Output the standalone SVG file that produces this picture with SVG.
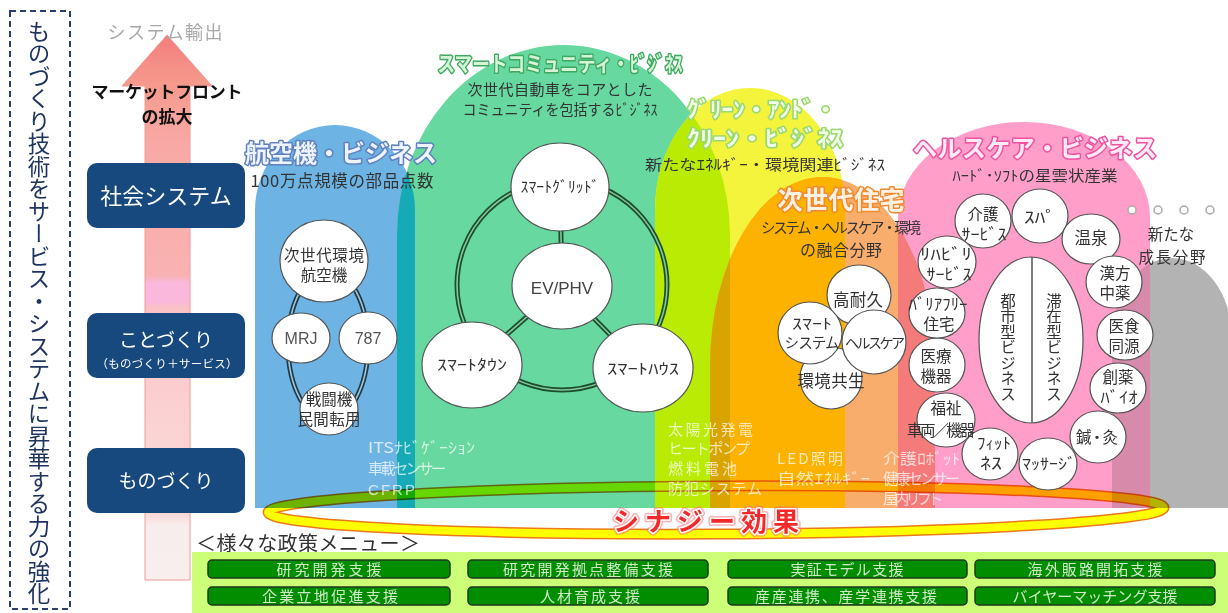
<svg xmlns="http://www.w3.org/2000/svg" width="1228" height="613" viewBox="0 0 1228 613">
<style>
text{font-family:'Noto Sans CJK JP','Noto Sans',sans-serif}
.lat{font-family:'Liberation Sans',Arial,sans-serif}
.d{fill:#333}
.c{fill:#fff;stroke:#555;stroke-width:1.2}
.w{fill:#fff;fill-opacity:0.72;font-size:15px}
.box{fill:#17497f}
.btn{fill:#008e00;stroke:#1d3b1d;stroke-width:1.5}
.bt{fill:#cfe8c6;font-size:15px}
.m{text-anchor:middle}
.ol{paint-order:stroke;stroke-linejoin:round;font-weight:700}
.r1{fill:none;stroke:#223a4a;stroke-width:5}
.r2{fill:none;stroke:#9fc6d6;stroke-width:1.6}
.g1{fill:none;stroke:#1d4d2d;stroke-width:5}
.g2{fill:none;stroke:#7fc89a;stroke-width:1.6}
.n{font-size:15.5px}
</style>
<defs>
<linearGradient id="ga" x1="0" y1="35" x2="0" y2="580" gradientUnits="userSpaceOnUse">
<stop offset="0" stop-color="#f37d7d"/>
<stop offset="0.09" stop-color="#f59a8c"/>
<stop offset="0.2" stop-color="#f8a9a6"/>
<stop offset="0.44" stop-color="#f9b2b2"/>
<stop offset="0.455" stop-color="#f9b8dc"/>
<stop offset="0.49" stop-color="#f9b8dc"/>
<stop offset="0.5" stop-color="#fac2c4"/>
<stop offset="0.72" stop-color="#fbd3d3"/>
<stop offset="0.88" stop-color="#fcd9d9"/>
<stop offset="0.9" stop-color="#f8eded"/>
<stop offset="1" stop-color="#f8eeee"/>
</linearGradient>
<path id="pBlue" d="M255,508 V210 A80,85 0 0 1 415,210 V508 Z"/>
<path id="pGreen" d="M397,508 V235 A166.5,190 0 0 1 730,235 V508 Z"/>
<path id="pYellow" d="M655,508 V210 A95,122 0 0 1 845,210 V508 Z"/>
<path id="pOrange" d="M710,508 V367 A112.5,190 0 0 1 935,367 V508 Z"/>
<path id="pPink" d="M898,508 V217 A126,95 0 0 1 1150,217 V508 Z"/>
<path id="pGray" d="M1112,508 V338 A60,80 0 0 1 1232,338 V508 Z"/>
<clipPath id="cBlue"><use href="#pBlue"/></clipPath>
<clipPath id="cGreen"><use href="#pGreen"/></clipPath>
<clipPath id="cYellow"><use href="#pYellow"/></clipPath>
<clipPath id="cOrange"><use href="#pOrange"/></clipPath>
<clipPath id="cGray"><use href="#pGray"/></clipPath>
</defs>
<rect width="1228" height="613" fill="#fff"/>

<g id="side-label">
<rect x="10" y="11" width="60" height="598" fill="none" stroke="#2b3f6e" stroke-width="2" stroke-dasharray="6 4"/>
<text x="39" y="20" font-size="22.5" fill="#1f3560" style="writing-mode:vertical-rl">ものづくり技術をサービス・システムに昇華する力の強化</text>
</g>

<g id="arrow">
<path d="M145,580 V86 H122 L167,35 L212,86 H190 V580 Z" fill="url(#ga)" stroke="#f09a9a" stroke-width="1"/>
<text x="165" y="39" font-size="18" fill="#a8a8a8" class="m" textLength="115">システム輸出</text>
<text x="167" y="98" font-size="17" font-weight="700" fill="#111" class="m" textLength="151">マーケットフロント</text>
<text x="167" y="123" font-size="17" font-weight="700" fill="#111" class="m">の拡大</text>
</g>

<g id="box-shakai">
<rect x="87" y="163" width="158" height="65" rx="10" class="box"/>
<text x="166" y="204" font-size="22" fill="#fff" class="m">社会システム</text>
</g>
<g id="box-kotozukuri">
<rect x="87" y="313" width="158" height="65" rx="10" class="box"/>
<text x="166" y="347" font-size="19" fill="#fff" class="m">ことづくり</text>
<text x="167" y="368" font-size="11.5" fill="#fff" class="m" textLength="141">（ものづくり＋サービス）</text>
</g>
<g id="box-monozukuri">
<rect x="87" y="448" width="158" height="65" rx="10" class="box"/>
<text x="166" y="488" font-size="19" fill="#fff" class="m">ものづくり</text>
</g>

<g id="domes">
<use href="#pBlue" fill="#6db3e3"/>
<use href="#pGreen" fill="#66d8a0"/>
<use href="#pGreen" fill="#16a9b6" clip-path="url(#cBlue)"/>
<use href="#pYellow" fill="#f4f43c"/>
<use href="#pYellow" fill="#b9eb05" clip-path="url(#cGreen)"/>
<use href="#pGray" fill="#b3b3b3"/>
<use href="#pOrange" fill="#f8ad6c"/>
<use href="#pOrange" fill="#feb200" clip-path="url(#cYellow)"/>
<g clip-path="url(#cYellow)"><use href="#pOrange" fill="#d8a400" clip-path="url(#cGreen)"/></g>
<use href="#pPink" fill="#ff9fc9"/>
<use href="#pPink" fill="#f57b7b" clip-path="url(#cOrange)"/>
<use href="#pPink" fill="#d78aa9" clip-path="url(#cGray)"/>
</g>

<g id="synergy-ring" style="mix-blend-mode:multiply">
<ellipse cx="716" cy="510" rx="448" ry="24" fill="none" stroke="#ec7a1a" stroke-width="11" transform="rotate(-0.3 716 510)"/>
<ellipse cx="716" cy="510" rx="448" ry="24" fill="none" stroke="#ffff00" stroke-width="8" transform="rotate(-0.3 716 510)"/>
</g>

<g id="titles">
<text x="341" y="162" font-size="24" class="m ol" fill="#eef4ff" stroke="#6080c0" stroke-width="3" textLength="192">航空機・ビジネス</text>
<text x="342" y="187" font-size="16.5" class="m d" textLength="183">100万点規模の部品点数</text>
<text x="560" y="71" font-size="21" class="m ol" fill="#d6f5d6" stroke="#3ea862" stroke-width="3" textLength="245" lengthAdjust="spacingAndGlyphs">スマートコミュニティ・ﾋﾞｼﾞﾈｽ</text>
<text x="560" y="95" font-size="15" class="m d" textLength="185">次世代自動車をコアとした</text>
<text x="560" y="115" font-size="15" class="m d" textLength="195" lengthAdjust="spacingAndGlyphs">コミュニティを包括するﾋﾞｼﾞﾈｽ</text>
<text x="762" y="117" font-size="22" class="m ol" fill="#f2ffe6" stroke="#9ad870" stroke-width="3" textLength="150" lengthAdjust="spacingAndGlyphs">ｸﾞﾘｰﾝ・ｱﾝﾄﾞ・</text>
<text x="765" y="146" font-size="22" class="m ol" fill="#f2ffe6" stroke="#9ad870" stroke-width="3" textLength="156" lengthAdjust="spacingAndGlyphs">ｸﾘｰﾝ・ﾋﾞｼﾞﾈｽ</text>
<text x="765" y="170" font-size="14.5" class="m d" textLength="240" lengthAdjust="spacingAndGlyphs">新たなｴﾈﾙｷﾞｰ・環境関連ﾋﾞｼﾞﾈｽ</text>
<text x="841" y="209" font-size="25" class="m ol" fill="#fff2e4" stroke="#f08a30" stroke-width="3" textLength="127">次世代住宅</text>
<text x="841" y="233" font-size="14.5" class="m d" textLength="160">システム・ヘルスケア・環境</text>
<text x="841" y="256" font-size="16" class="m d" textLength="82">の融合分野</text>
<text x="1035" y="157" font-size="24" class="m ol" fill="#ffeaf5" stroke="#f052a0" stroke-width="3" textLength="244">ヘルスケア・ビジネス</text>
<text x="1035" y="181" font-size="14.5" class="m d" textLength="165" lengthAdjust="spacingAndGlyphs">ﾊｰﾄﾞ･ｿﾌﾄの星雲状産業</text>
<text x="1171" y="240" font-size="15.5" class="m d">新たな</text>
<text x="1172" y="263" font-size="15.5" class="m d" textLength="67">成長分野</text>
</g>

<g id="dots" fill="#fff" stroke="#aaa" stroke-width="1.5">
<circle cx="1132" cy="210" r="4"/><circle cx="1158" cy="210" r="4"/><circle cx="1184" cy="210" r="4"/><circle cx="1210" cy="210" r="4"/>
</g>

<g id="connectors">
<ellipse cx="328" cy="345" rx="40" ry="75" class="r1"/>
<ellipse cx="328" cy="345" rx="40" ry="75" class="r2"/>
<circle cx="562" cy="285" r="105" class="g1"/>
<circle cx="562" cy="285" r="105" class="g2"/>
<path d="M562,286 L560,187 M562,286 L472,365 M562,286 L643,368" class="g1"/>
<path d="M562,286 L560,187 M562,286 L472,365 M562,286 L643,368" class="g2"/>
</g>

<g id="aviation-nodes">
<g id="n-jisedai"><ellipse cx="324" cy="261" rx="44" ry="41" class="c"/>
<text x="324" y="260.5" class="m d n" textLength="80">次世代環境</text>
<text x="324" y="280.5" class="m d n">航空機</text></g>
<g id="n-mrj"><ellipse cx="301" cy="338" rx="29" ry="25" class="c"/>
<text x="301" y="344" font-size="16" class="m lat" fill="#555">MRJ</text></g>
<g id="n-787"><ellipse cx="368" cy="338" rx="29" ry="26" class="c"/>
<text x="368" y="344" font-size="16" class="m lat" fill="#555">787</text></g>
<g id="n-sentoki"><ellipse cx="329" cy="409" rx="29" ry="26" class="c"/>
<text x="329" y="404.5" class="m d n">戦闘機</text>
<text x="329" y="424.5" class="m d n" textLength="63">民間転用</text></g>
</g>

<g id="community-nodes">
<g id="n-grid"><ellipse cx="560" cy="187" rx="49" ry="44" class="c"/>
<text x="560" y="192" font-size="15" class="m d" textLength="79" lengthAdjust="spacingAndGlyphs">ｽﾏｰﾄｸﾞﾘｯﾄﾞ</text></g>
<g id="n-ev"><ellipse cx="562" cy="286" rx="50" ry="43" class="c"/>
<text x="562" y="294" font-size="17" class="m lat" fill="#444">EV/PHV</text></g>
<g id="n-town"><ellipse cx="472" cy="365" rx="50" ry="43" class="c"/>
<text x="472" y="370" font-size="15" class="m d" textLength="70" lengthAdjust="spacingAndGlyphs">ｽﾏｰﾄﾀｳﾝ</text></g>
<g id="n-house"><ellipse cx="643" cy="368" rx="50" ry="44" class="c"/>
<text x="643" y="374" font-size="15" class="m d" textLength="72" lengthAdjust="spacingAndGlyphs">ｽﾏｰﾄﾊｳｽ</text></g>
</g>

<g id="housing-nodes">
<g id="n-koutaikyu"><ellipse cx="859" cy="295" rx="32" ry="30" class="c"/></g>
<g id="n-kankyo"><ellipse cx="831" cy="378" rx="31" ry="31" class="c"/></g>
<g id="n-smartsys"><ellipse cx="810" cy="333" rx="32" ry="31" class="c"/></g>
<g id="n-healthcare"><ellipse cx="874" cy="342" rx="32" ry="32" class="c"/></g>
<text x="858" y="306" font-size="16.5" class="m d" textLength="50">高耐久</text>
<text x="812" y="329" font-size="14.5" class="m d" textLength="40" lengthAdjust="spacingAndGlyphs">ｽﾏｰﾄ</text>
<text x="812" y="348" font-size="14.5" class="m d" textLength="55">システム</text>
<text x="875" y="348" font-size="14" class="m d" textLength="60">ヘルスケア</text>
<text x="831" y="387" font-size="16.5" class="m d" textLength="67">環境共生</text>
</g>

<g id="health-nodes">
<g id="n-core"><ellipse cx="1031" cy="340" rx="52" ry="83" class="c"/>
<line x1="1032" y1="257" x2="1032" y2="423" stroke="#555" stroke-width="1.5"/>
<text x="1008" y="293" font-size="15.5" class="d" style="writing-mode:vertical-rl">都市型ビジネス</text>
<text x="1054" y="293" font-size="15.5" class="d" style="writing-mode:vertical-rl">滞在型ビジネス</text></g>
<g id="n-kaigo"><ellipse cx="983" cy="221" rx="28" ry="27" class="c"/>
<text x="983" y="219.5" class="m d n">介護</text>
<text x="984" y="239.5" class="m d n" textLength="45" lengthAdjust="spacingAndGlyphs">ｻｰﾋﾞｽ</text></g>
<g id="n-spa"><ellipse cx="1040" cy="216" rx="28" ry="27" class="c"/>
<text x="1040" y="223" class="m d n" textLength="32" lengthAdjust="spacingAndGlyphs">ｽﾊﾟ</text></g>
<g id="n-onsen"><ellipse cx="1091" cy="239" rx="29" ry="25" class="c"/>
<text x="1091" y="244" font-size="16.5" class="m d">温泉</text></g>
<g id="n-kampo"><ellipse cx="1114" cy="282" rx="28" ry="26" class="c"/>
<text x="1115" y="278.5" class="m d n">漢方</text>
<text x="1115" y="298.5" class="m d n">中薬</text></g>
<g id="n-ishoku"><ellipse cx="1125" cy="335" rx="28" ry="25" class="c"/>
<text x="1124" y="331.5" class="m d n">医食</text>
<text x="1124" y="351.5" class="m d n">同源</text></g>
<g id="n-souyaku"><ellipse cx="1118" cy="388" rx="28" ry="25" class="c"/>
<text x="1118" y="382.5" class="m d n">創薬</text>
<text x="1119" y="402.5" class="m d n" textLength="37" lengthAdjust="spacingAndGlyphs">ﾊﾞｲｵ</text></g>
<g id="n-shinkyu"><ellipse cx="1098" cy="437" rx="28" ry="26" class="c"/>
<text x="1097" y="443" class="m d n" textLength="42">鍼・灸</text></g>
<g id="n-massage"><ellipse cx="1048" cy="464" rx="29" ry="26" class="c"/>
<text x="1049" y="469" font-size="15" class="m d" textLength="54" lengthAdjust="spacingAndGlyphs">ﾏｯｻｰｼﾞ</text></g>
<g id="n-fitness"><ellipse cx="990" cy="454" rx="28" ry="26" class="c"/>
<text x="994" y="449" class="m d n" textLength="34" lengthAdjust="spacingAndGlyphs">ﾌｨｯﾄ</text>
<text x="991" y="469" class="m d n" textLength="22" lengthAdjust="spacingAndGlyphs">ﾈｽ</text></g>
<g id="n-fukushi"><ellipse cx="946" cy="420" rx="29" ry="27" class="c"/>
<text x="946" y="414" class="m d n">福祉</text>
<text x="941" y="436" class="m d n" textLength="68">車両／機器</text></g>
<g id="n-iryo"><ellipse cx="937" cy="365" rx="28" ry="27" class="c"/>
<text x="936" y="361.5" class="m d n">医療</text>
<text x="936" y="381.5" class="m d n">機器</text></g>
<g id="n-barrier"><ellipse cx="937" cy="313" rx="28" ry="25" class="c"/>
<text x="938" y="309.5" class="m d n" textLength="59" lengthAdjust="spacingAndGlyphs">ﾊﾞﾘｱﾌﾘｰ</text>
<text x="939" y="329.5" class="m d n">住宅</text></g>
<g id="n-rehab"><ellipse cx="947" cy="262" rx="29" ry="26" class="c"/>
<text x="946" y="259.5" class="m d n" textLength="52" lengthAdjust="spacingAndGlyphs">ﾘﾊﾋﾞﾘ</text>
<text x="949" y="279.5" class="m d n" textLength="45" lengthAdjust="spacingAndGlyphs">ｻｰﾋﾞｽ</text></g>
</g>

<g id="tech-labels">
<text x="368" y="453" class="w" textLength="107" lengthAdjust="spacingAndGlyphs">ITSﾅﾋﾞｹﾞｰｼｮﾝ</text>
<text x="368" y="474" class="w" textLength="78">車載センサー</text>
<text x="368" y="495" class="w lat" font-size="16" textLength="47">CFRP</text>
<text x="668" y="435" class="w" textLength="85">太陽光発電</text>
<text x="668" y="454" class="w" textLength="82">ヒートポンプ</text>
<text x="668" y="474" class="w" textLength="69">燃料電池</text>
<text x="668" y="494" class="w" textLength="94">防犯システム</text>
<text x="777" y="464" class="w" textLength="66">LED照明</text>
<text x="777" y="484" class="w" textLength="93" lengthAdjust="spacingAndGlyphs">自然ｴﾈﾙｷﾞｰ</text>
<text x="883" y="464" class="w" textLength="77" lengthAdjust="spacingAndGlyphs">介護ﾛﾎﾞｯﾄ</text>
<text x="883" y="484" class="w" textLength="77">健康センサー</text>
<text x="883" y="504" class="w" textLength="60">屋内リフト</text>
</g>

<g id="synergy-label">
<text x="706" y="531" font-size="26" class="m" font-weight="700" fill="none" stroke="#ff7070" stroke-width="6" stroke-opacity="0.55" stroke-linejoin="round" textLength="186">シナジー効果</text>
<text x="706" y="531" font-size="26" class="m ol" fill="#f42828" stroke="#fff" stroke-width="3" textLength="186">シナジー効果</text>
</g>

<g id="policy-menu">
<text x="196" y="551" font-size="20" class="d" textLength="224">＜様々な政策メニュー＞</text>
<rect x="192" y="552" width="1036" height="61" fill="#ccff77"/>
<g id="b1"><rect x="208" y="560" width="242" height="18" rx="4" class="btn"/><text x="329" y="575" class="bt m" textLength="105">研究開発支援</text></g>
<g id="b2"><rect x="468" y="560" width="240" height="18" rx="4" class="btn"/><text x="588" y="575" class="bt m" textLength="170">研究開発拠点整備支援</text></g>
<g id="b3"><rect x="728" y="560" width="239" height="18" rx="4" class="btn"/><text x="847" y="575" class="bt m" textLength="113">実証モデル支援</text></g>
<g id="b4"><rect x="975" y="560" width="240" height="18" rx="4" class="btn"/><text x="1095" y="575" class="bt m" textLength="135">海外販路開拓支援</text></g>
<g id="b5"><rect x="208" y="587" width="242" height="18" rx="4" class="btn"/><text x="330" y="602" class="bt m" textLength="136">企業立地促進支援</text></g>
<g id="b6"><rect x="468" y="587" width="240" height="18" rx="4" class="btn"/><text x="590" y="602" class="bt m" textLength="100">人材育成支援</text></g>
<g id="b7"><rect x="728" y="587" width="239" height="18" rx="4" class="btn"/><text x="846" y="602" class="bt m" textLength="182">産産連携、産学連携支援</text></g>
<g id="b8"><rect x="975" y="587" width="240" height="18" rx="4" class="btn"/><text x="1095" y="602" class="bt m" textLength="165">バイヤーマッチング支援</text></g>
</g>
</svg>
